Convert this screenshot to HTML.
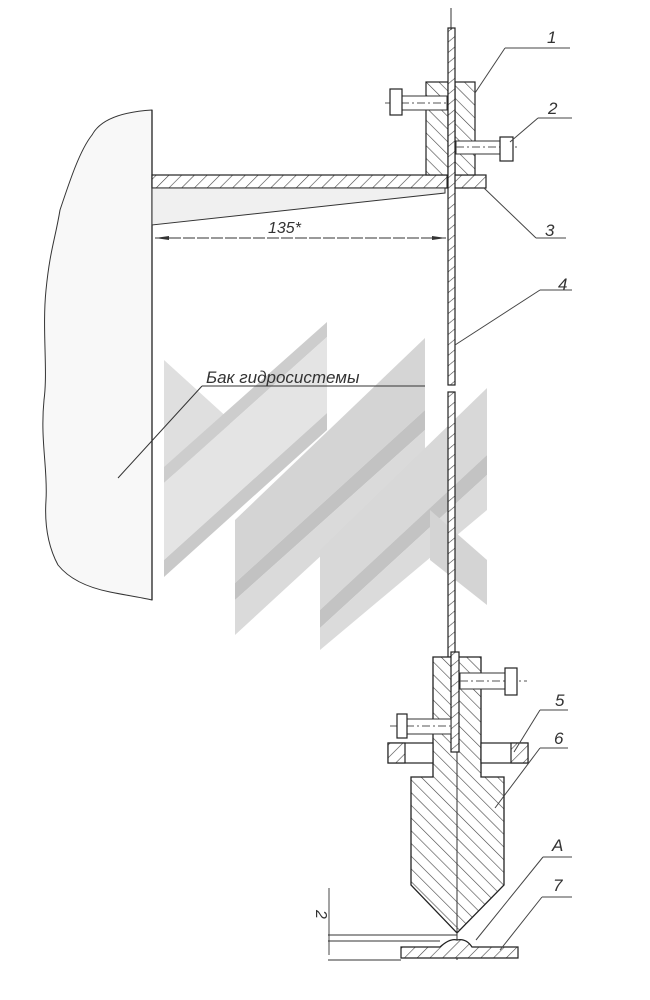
<!DOCTYPE html>
<html><head><meta charset="utf-8"><style>
html,body{margin:0;padding:0;background:#fff;}
svg{display:block;}
text{font-family:"Liberation Sans",sans-serif;font-style:italic;fill:#333;}
</style></head><body>
<svg width="650" height="1000" viewBox="0 0 650 1000" xmlns="http://www.w3.org/2000/svg">
<defs>
<pattern id="h" width="9" height="9" patternUnits="userSpaceOnUse" patternTransform="rotate(45)">
<rect width="9" height="9" fill="#fff"/><line x1="0" y1="0" x2="0" y2="9" stroke="#444" stroke-width="1.2"/></pattern>
<pattern id="h2" width="9" height="9" patternUnits="userSpaceOnUse" patternTransform="rotate(-45)">
<rect width="9" height="9" fill="#fff"/><line x1="0" y1="0" x2="0" y2="9" stroke="#444" stroke-width="1.2"/></pattern>
<pattern id="h3" width="8" height="8" patternUnits="userSpaceOnUse" patternTransform="rotate(50)">
<rect width="8" height="8" fill="#fff"/><line x1="0" y1="0" x2="0" y2="8" stroke="#444" stroke-width="1.2"/></pattern>
</defs>
<!-- tank -->
<path d="M152,110 C120,112 100,120 92,135 C80,150 70,180 60,210 C55,240 50,250 46,290 C42,330 48,370 44,400 C40,440 48,470 46,500 C44,530 50,550 58,565 C70,580 90,588 110,592 C130,596 145,598 152,600 Z" fill="#f8f8f8" stroke="#333" stroke-width="1"/>
<line x1="152" y1="110" x2="152" y2="600" stroke="#222" stroke-width="1.3"/>
<!-- watermark -->
<g opacity="0.9">
<polygon points="164,360 230,420 230,440 164,480" fill="#dcdcdc"/>
<polygon points="164,467 327,322 327,337 164,483" fill="#c8c8c8"/>
<polygon points="164,483 327,337 327,413 164,560" fill="#e2e2e2"/>
<polygon points="164,560 327,413 327,430 164,577" fill="#c4c4c4"/>
<polygon points="235,520 425,338 425,410 235,583" fill="#d0d0d0"/>
<polygon points="235,583 425,410 425,430 235,600" fill="#bcbcbc"/>
<polygon points="235,600 425,430 425,460 235,635" fill="#d6d6d6"/>
<polygon points="320,550 487,388 487,455 320,610" fill="#d4d4d4"/>
<polygon points="320,610 487,455 487,475 320,628" fill="#bdbdbd"/>
<polygon points="320,628 487,475 487,510 320,650" fill="#d8d8d8"/>
<polygon points="430,510 487,560 487,605 430,560" fill="#d0d0d0"/>
</g>
<!-- shelf -->
<rect x="152" y="175" width="334" height="13" fill="url(#h)" stroke="#222" stroke-width="1.2"/>
<line x1="447" y1="175" x2="447" y2="188" stroke="#222"/>
<polygon points="152,188 445,188 445,193 152,225" fill="#f0f0f0" stroke="#333" stroke-width="1"/>
<!-- upper clamp -->
<rect x="426" y="82" width="22" height="93" fill="url(#h2)" stroke="#222" stroke-width="1.2"/>
<rect x="455" y="82" width="20" height="93" fill="url(#h2)" stroke="#222" stroke-width="1.2"/>
<rect x="402" y="96" width="45" height="14" fill="#fff" stroke="#333"/>
<line x1="385" y1="103" x2="447" y2="103" stroke="#555" stroke-dasharray="8,3,2,3"/>
<rect x="390" y="89" width="12" height="26" fill="#fff" stroke="#222" stroke-width="1.2"/>
<rect x="456" y="141" width="44" height="13" fill="#fff" stroke="#333"/>
<line x1="456" y1="147" x2="520" y2="147" stroke="#555" stroke-dasharray="8,3,2,3"/>
<rect x="500" y="137" width="13" height="24" fill="#fff" stroke="#222" stroke-width="1.2"/>
<!-- rod -->
<rect x="448" y="28" width="7" height="357" fill="url(#h3)" stroke="#222" stroke-width="1.2"/>
<rect x="448" y="392" width="7" height="360" fill="url(#h3)" stroke="#222" stroke-width="1.2"/>
<line x1="451" y1="8" x2="451" y2="30" stroke="#333"/>
<!-- dimension 135 -->
<line x1="155" y1="238" x2="446" y2="238" stroke="#333" stroke-width="0.9" stroke-dasharray="12,2"/>
<path d="M155,238 l14,-2 l0,4 z M446,238 l-14,-2 l0,4 z" fill="#333"/>
<text x="268" y="233" font-size="16">135*</text>
<!-- label tank -->
<text x="206" y="383" font-size="17">Бак гидросистемы</text>
<line x1="202" y1="386" x2="425" y2="386" stroke="#333"/>
<line x1="202" y1="386" x2="118" y2="478" stroke="#333"/>
<!-- lower clamp -->
<polygon points="433,657 481,657 481,777 504,777 504,885 457,933 411,885 411,777 433,777" fill="url(#h2)" stroke="#222" stroke-width="1.3"/>
<line x1="457" y1="752" x2="457" y2="960" stroke="#333" stroke-width="1"/>
<rect x="451" y="652" width="8" height="100" fill="url(#h3)" stroke="#222" stroke-width="1.2"/>
<rect x="388" y="743" width="45" height="20" fill="#fff" stroke="#222" stroke-width="1.2"/>
<rect x="388" y="743" width="17" height="20" fill="url(#h)" stroke="#222" stroke-width="1.2"/>
<rect x="481" y="743" width="47" height="20" fill="#fff" stroke="#222" stroke-width="1.2"/>
<rect x="511" y="743" width="17" height="20" fill="url(#h)" stroke="#222" stroke-width="1.2"/>
<rect x="460" y="673" width="45" height="16" fill="#fff" stroke="#333"/>
<line x1="460" y1="681" x2="527" y2="681" stroke="#555" stroke-dasharray="8,3,2,3"/>
<rect x="505" y="668" width="12" height="27" fill="#fff" stroke="#222" stroke-width="1.2"/>
<rect x="407" y="719" width="44" height="15" fill="#fff" stroke="#333"/>
<line x1="390" y1="726" x2="451" y2="726" stroke="#555" stroke-dasharray="8,3,2,3"/>
<rect x="397" y="714" width="10" height="24" fill="#fff" stroke="#222" stroke-width="1.2"/>
<!-- plate 7 -->
<path d="M401,947 L440,947 Q450,938 457,940 Q466,938 472,947 L518,947 L518,958 L401,958 Z" fill="url(#h)" stroke="#222" stroke-width="1.2"/>
<!-- dim 2 -->
<line x1="328" y1="935" x2="457" y2="935" stroke="#333" stroke-width="0.9"/>
<line x1="328" y1="941" x2="440" y2="941" stroke="#333" stroke-width="0.9"/>
<line x1="328" y1="960" x2="401" y2="960" stroke="#333" stroke-width="0.9"/>
<line x1="329" y1="888" x2="329" y2="955" stroke="#333" stroke-width="0.9"/>
<text x="316" y="910" font-size="16" transform="rotate(90 316 910)">2</text>
<!-- leaders -->
<g stroke="#444" stroke-width="1" fill="none">
<line x1="505" y1="48" x2="570" y2="48"/><line x1="505" y1="48" x2="475" y2="93"/>
<line x1="538" y1="118" x2="572" y2="118"/><line x1="538" y1="118" x2="510" y2="142"/>
<line x1="536" y1="238" x2="566" y2="238"/><line x1="536" y1="238" x2="484" y2="188"/>
<line x1="540" y1="290" x2="572" y2="290"/><line x1="540" y1="290" x2="455" y2="345"/>
<line x1="540" y1="710" x2="568" y2="710"/><line x1="540" y1="710" x2="514" y2="752"/>
<line x1="540" y1="748" x2="568" y2="748"/><line x1="540" y1="748" x2="495" y2="808"/>
<line x1="543" y1="857" x2="572" y2="857"/><line x1="543" y1="857" x2="476" y2="940"/>
<line x1="542" y1="897" x2="572" y2="897"/><line x1="542" y1="897" x2="500" y2="950"/>
</g>
<g font-size="17">
<text x="547" y="43">1</text>
<text x="548" y="114">2</text>
<text x="545" y="236">3</text>
<text x="558" y="290">4</text>
<text x="555" y="706">5</text>
<text x="554" y="744">6</text>
<text x="552" y="851">A</text>
<text x="553" y="891">7</text>
</g>
</svg>
</body></html>
